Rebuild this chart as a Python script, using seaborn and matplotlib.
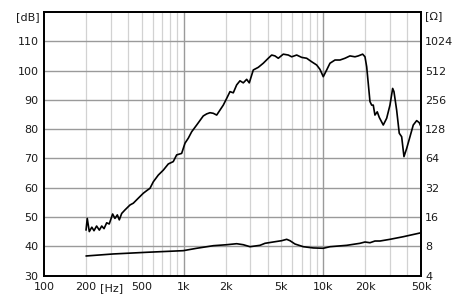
import numpy as np
import pandas as pd
import matplotlib
matplotlib.use("Agg")
import matplotlib.pyplot as plt
import seaborn as sns

# ---- data ----
spl_freq = [200, 204, 211, 220, 228, 238, 249, 259, 269, 281, 293, 310, 322, 335, 346, 360,
            380, 413, 436, 473, 514, 544, 574, 606, 658, 715, 776, 842, 891, 967, 1022, 1079,
            1141, 1239, 1381, 1461, 1543, 1629, 1723, 1819, 1921, 2032, 2145, 2265, 2395, 2529,
            2671, 2825, 2948, 3150, 3420, 3713, 4033, 4265, 4503, 4756, 5164, 5609, 5931, 6441,
            6993, 7595, 8249, 8956, 9456, 9984, 10560, 11150, 12110, 13150, 14280, 15500, 16840,
            17770, 19110, 19860, 20420, 20960, 21560, 22170, 22760, 23400, 24310, 25130, 26840,
            28390, 29980, 31340, 32020, 33470, 34930, 36350, 37760, 39480, 41690, 44010, 46550,
            48590, 50000]
spl_db = [45.5, 49.5, 45.0, 46.5, 45.3, 46.9, 45.5, 46.9, 46.0, 48.0, 47.6, 51.0, 49.5, 50.7,
          49.0, 51.2, 52.4, 54.1, 54.7, 56.4, 58.1, 59.0, 59.8, 62.0, 64.3, 66.0, 68.1, 68.9,
          71.2, 71.7, 75.2, 76.9, 79.1, 81.4, 84.5, 85.2, 85.6, 85.4, 84.8, 86.5, 88.2, 90.5,
          92.8, 92.4, 95.1, 96.5, 95.8, 97.0, 95.8, 100.2, 101.1, 102.5, 104.2, 105.3, 105.0,
          104.2, 105.6, 105.3, 104.7, 105.3, 104.5, 104.2, 103.0, 101.9, 100.4, 97.9, 100.2,
          102.5, 103.6, 103.6, 104.2, 105.0, 104.7, 105.0, 105.6, 104.7, 101.3, 95.6, 89.4,
          88.2, 88.2, 84.8, 85.9, 84.0, 81.4, 83.7, 88.2, 93.9, 92.8, 86.5, 78.6, 77.4, 70.6,
          73.4, 77.4, 81.4, 82.9, 82.2, 80.8]

imp_freq = [200, 313, 544, 993, 1239, 1629, 2032, 2395, 2671, 2983, 3517, 3819, 4503, 5030,
            5463, 5768, 6262, 7180, 8467, 9984, 11150, 14690, 18280, 19860, 21560, 23400, 25430,
            29980, 37330, 50000]
imp_ohm = [6.35, 6.66, 6.93, 7.20, 7.62, 8.10, 8.29, 8.49, 8.29, 7.91, 8.17, 8.57, 8.90, 9.12,
           9.42, 9.12, 8.43, 7.91, 7.68, 7.62, 7.91, 8.17, 8.57, 8.84, 8.69, 9.05, 9.05, 9.42,
           10.02, 11.0]

x_ticks = [100, 200, 500, 1000, 2000, 5000, 10000, 20000, 50000]
x_labels = ["100", "200", "500", "1k", "2k", "5k", "10k", "20k", "50k"]
db_ticks = [30, 40, 50, 60, 70, 80, 90, 100, 110]
ohm_ticks = [4, 8, 16, 32, 64, 128, 256, 512, 1024]

# ---- figure ----
sns.set_style("white")
plt.rcParams["font.family"] = ["DejaVu Sans"]
txt = "#1a1a1a"
fs = 8

fig = plt.figure(figsize=(4.64, 3.0), dpi=100)
W, H = 464, 300
L, R, T, B = 44, 421, 12, 275.5
ax = fig.add_axes([L / W, 1 - B / H, (R - L) / W, (B - T) / H])
ax.set_xscale("log")
ax.set_xlim(100, 50000)
ax.set_ylim(30, 120)

# grid lines
minor_col, major_col = "#d2d2d2", "#9a9a9a"
for dec in (100, 1000, 10000):
    for m in range(2, 10):
        f = dec * m
        if f < 50000:
            ax.axvline(f, color=minor_col, lw=0.9, zorder=0)
for f in (1000, 10000):
    ax.axvline(f, color=major_col, lw=1.0, zorder=0.5)
for y in db_ticks[1:]:
    ax.axhline(y, color=major_col, lw=1.0, zorder=0.5)

spl = pd.DataFrame({"freq": spl_freq, "db": spl_db})
imp = pd.DataFrame({"freq": imp_freq, "ohm": imp_ohm})

sns.lineplot(data=spl, x="freq", y="db", ax=ax, color="black", lw=1.2, zorder=3)

ax2 = ax.twinx()
ax2.set_yscale("log", base=2)
ax2.set_ylim(4, 2048)
sns.lineplot(data=imp, x="freq", y="ohm", ax=ax2, color="black", lw=1.2, zorder=3)
ax2.set_xlim(100, 50000)

ax.set_xticks(x_ticks)
ax.set_xticklabels(x_labels)
ax.xaxis.set_minor_locator(matplotlib.ticker.NullLocator())
ax.set_yticks(db_ticks)
ax.set_yticklabels([str(v) for v in db_ticks])
ax2.set_yticks(ohm_ticks)
ax2.set_yticklabels([str(v) for v in ohm_ticks])
ax2.yaxis.set_minor_locator(matplotlib.ticker.NullLocator())

ax.tick_params(axis="x", length=0, pad=5, labelsize=fs, labelcolor=txt)
ax.tick_params(axis="y", length=0, pad=4, labelsize=fs, labelcolor=txt)
ax2.tick_params(axis="y", length=0, pad=3, labelsize=fs, labelcolor=txt)
ax.set_xlabel("")
ax.set_ylabel("")
ax2.set_ylabel("")

for a in (ax, ax2):
    for s in a.spines.values():
        s.set_visible(True)
        s.set_color("black")
        s.set_linewidth(1.3)

fig.text(39.5 / W, 1 - 17 / H, "[dB]", ha="right", va="center", fontsize=fs, color=txt)
fig.text(425 / W, 1 - 16 / H, "[Ω]", ha="left", va="center", fontsize=fs, color=txt)
fig.text(112 / W, 1 - 288 / H, "[Hz]", ha="center", va="center", fontsize=fs, color=txt)

fig.savefig("out.png", dpi=100, facecolor="white")
